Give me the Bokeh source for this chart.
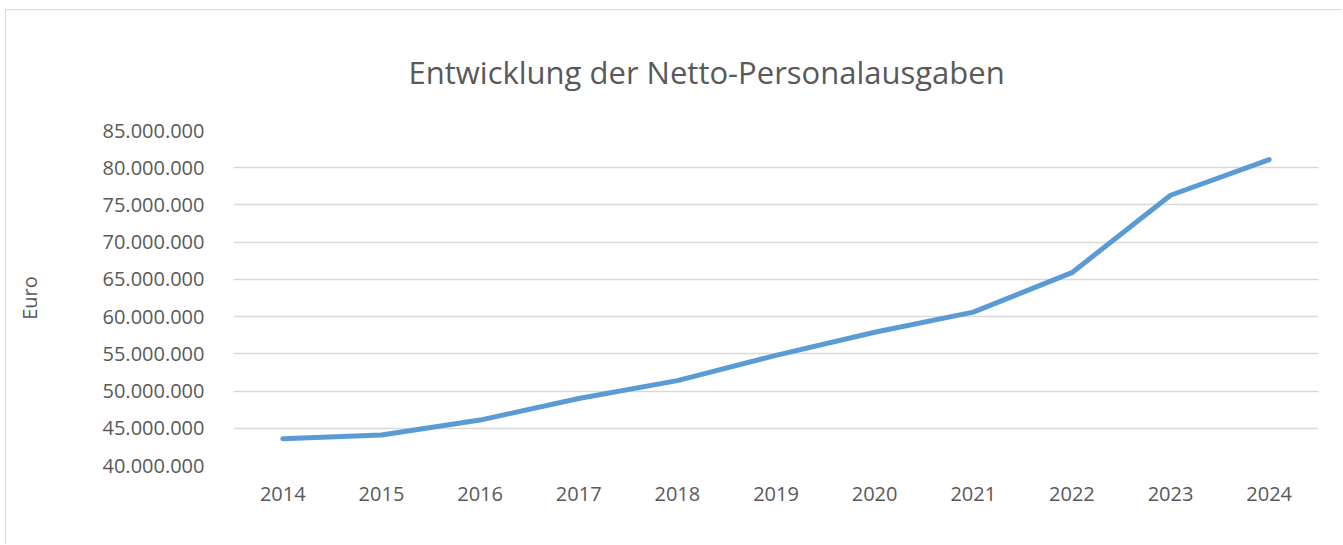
from bokeh.plotting import figure
from bokeh.models import Range1d, FixedTicker, CustomJSTickFormatter, ColumnDataSource
from bokeh.embed import file_html
from bokeh.resources import INLINE

years = ["2014", "2015", "2016", "2017", "2018", "2019", "2020", "2021", "2022", "2023", "2024"]
ausgaben = [43600000, 44100000, 46100000, 49000000, 51400000, 54800000,
            57900000, 60600000, 65900000, 76300000, 81100000]
y_ticks = [40000000, 45000000, 50000000, 55000000, 60000000, 65000000,
           70000000, 75000000, 80000000, 85000000]

FONT = "Open Sans"
TXT = "#595959"

p = figure(x_range=years, y_range=Range1d(40000000, 85000000),
           width=1337, height=535, output_backend="svg", toolbar_location=None,
           title="Entwicklung der Netto-Personalausgaben",
           min_border_left=227, min_border_right=25, min_border_top=120, min_border_bottom=80)

p.styles = {"border-left": "1px solid #d9d9d9", "border-top": "1px solid #d9d9d9",
            "margin-left": "5px", "margin-top": "9px"}

src = ColumnDataSource(dict(x=years, y=ausgaben))
p.line("x", "y", source=src, line_color="#5B9BD5", line_width=5, line_cap="round", line_join="round")

p.title.text_font = FONT
p.title.text_font_size = "31px"
p.title.text_font_style = "normal"
p.title.text_color = TXT
p.title.align = "left"
p.title.offset = 175
p.title.standoff = 76

p.outline_line_color = None
p.background_fill_color = "white"
p.border_fill_color = "white"

p.xgrid.grid_line_color = None
p.ygrid.grid_line_color = "#d9d9d9"
p.ygrid.grid_line_width = 1.5

p.yaxis.ticker = FixedTicker(ticks=y_ticks)
p.yaxis.formatter = CustomJSTickFormatter(code="""
return Math.round(tick).toString().replace(/\\B(?=(\\d{3})+(?!\\d))/g, ".");
""")
p.yaxis.axis_label = "Euro"
p.yaxis.axis_label_text_font = FONT
p.yaxis.axis_label_text_font_size = "20px"
p.yaxis.axis_label_text_font_style = "normal"
p.yaxis.axis_label_text_color = TXT
p.yaxis.axis_label_standoff = 57

for ax in (p.xaxis, p.yaxis):
    ax.axis_line_color = None
    ax.major_tick_line_color = None
    ax.minor_tick_line_color = None
    ax.major_label_text_font = FONT
    ax.major_label_text_font_size = "20px"
    ax.major_label_text_color = TXT

p.yaxis.major_label_standoff = 23
p.xaxis.major_label_standoff = 15

open("out.html", "w").write(file_html(p, INLINE))
